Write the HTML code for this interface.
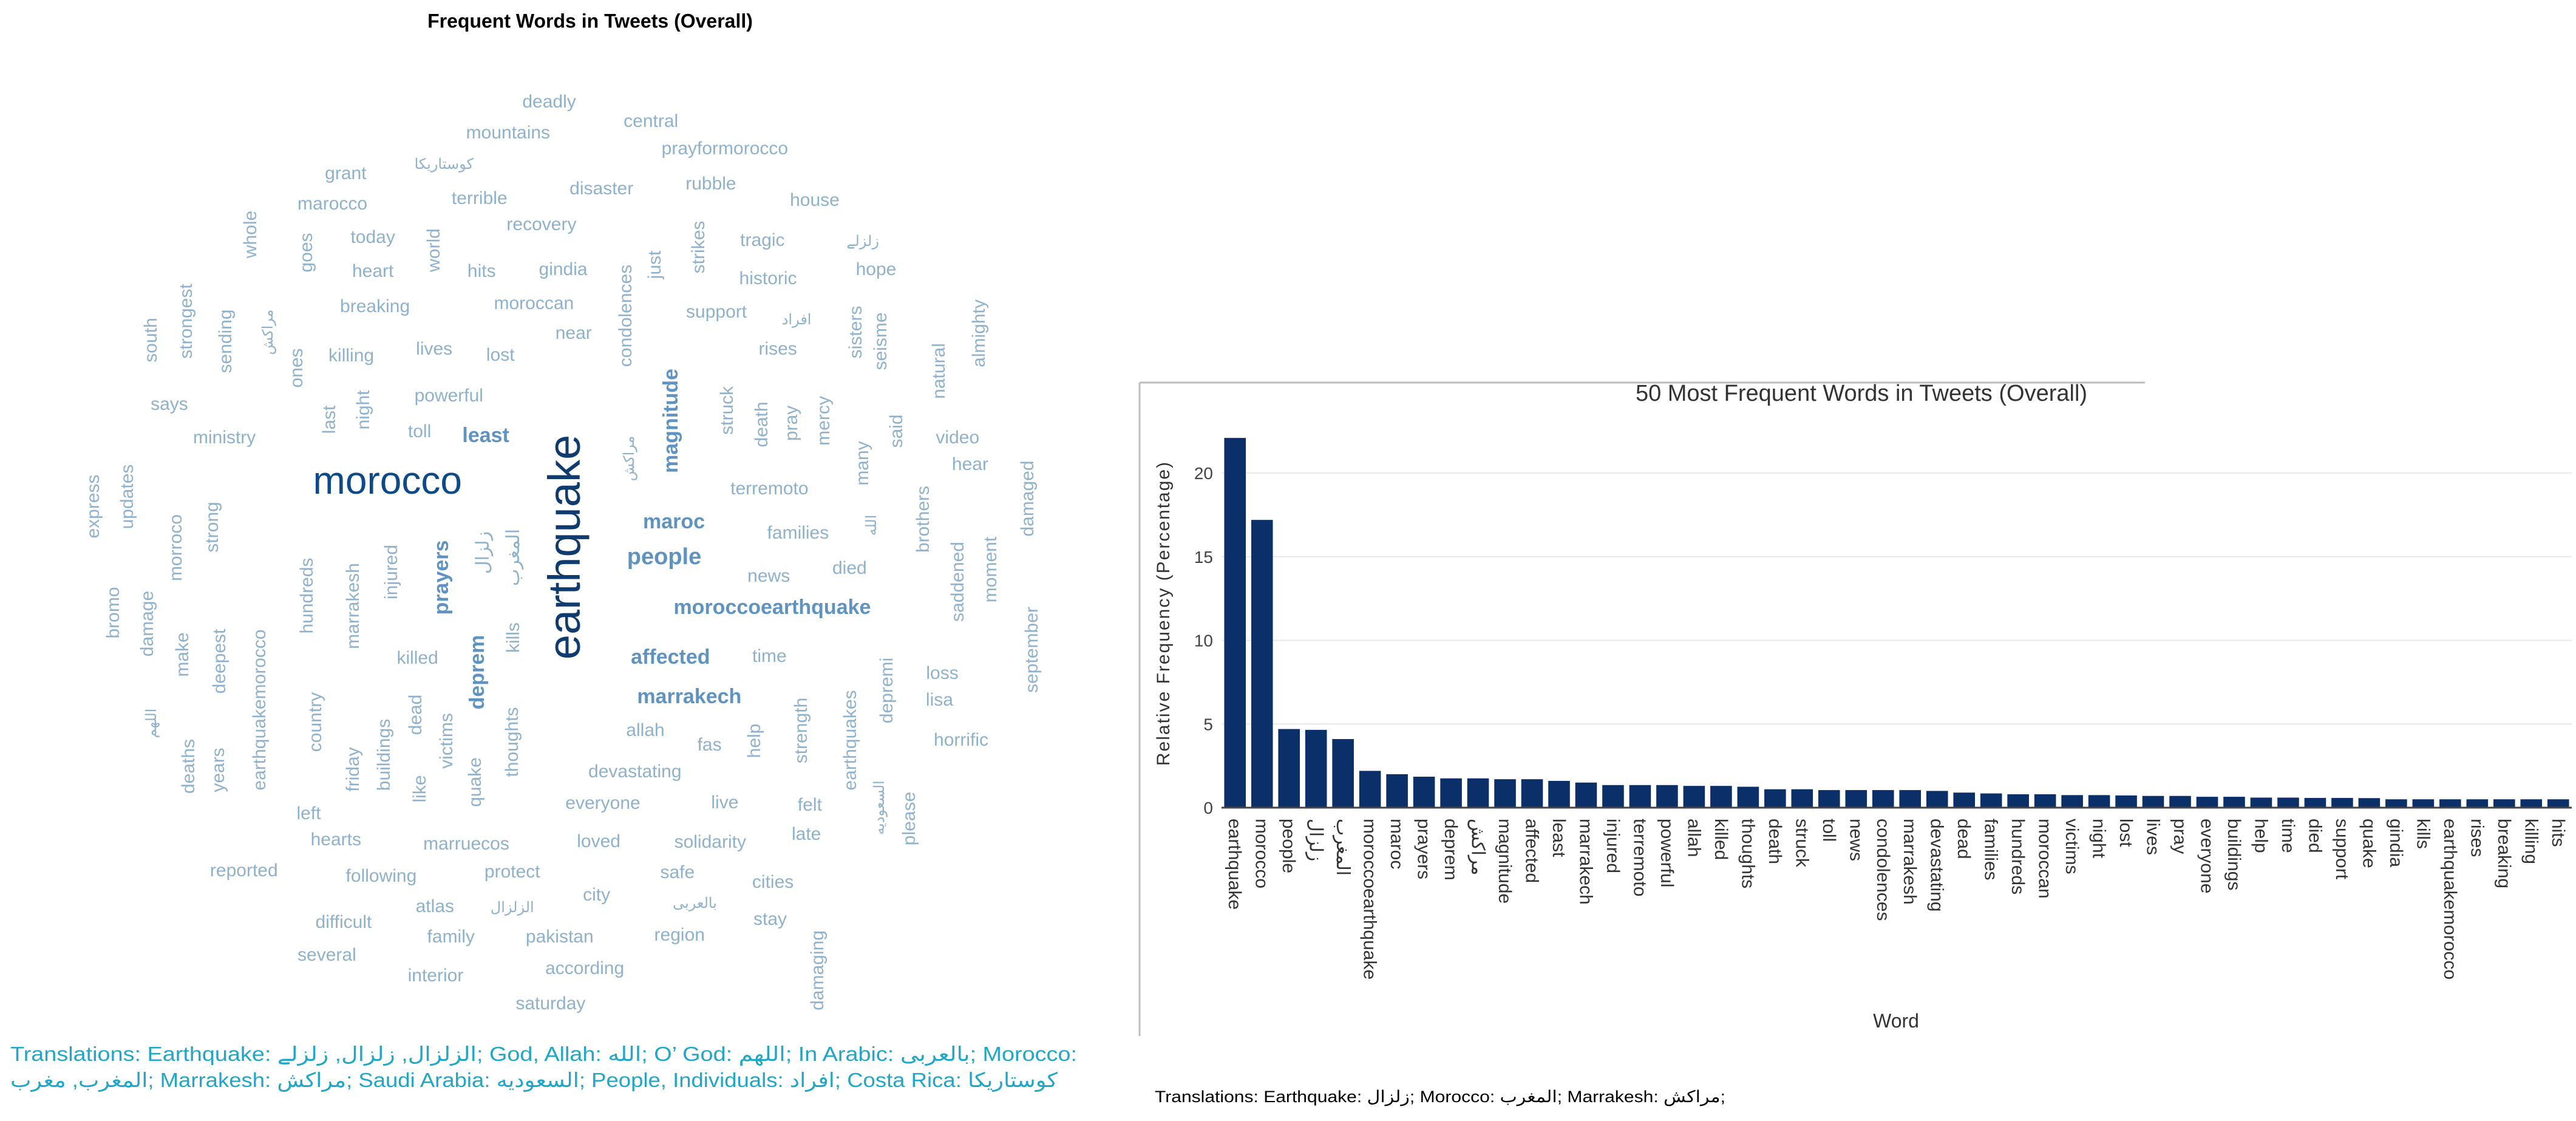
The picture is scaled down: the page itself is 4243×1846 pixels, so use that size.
<!DOCTYPE html>
<html><head><meta charset="utf-8">
<style>
html,body{margin:0;padding:0;background:#fff;}
#page{position:relative;width:4243px;height:1846px;overflow:hidden;background:#fff;font-family:"Liberation Sans","Noto Sans CJK SC",sans-serif;}
.w{position:absolute;white-space:nowrap;line-height:1;transform:translate(-50%,-50%);color:#8fb2cc;font-size:30px;}
.w.v{transform:translate(-50%,-50%) rotate(-90deg);}
.w.m{color:#5f93c2;font-size:34px;font-weight:bold;}
.w.s{font-size:24px;}
</style></head>
<body>
<div id="page">
<div style="position:absolute;left:972px;top:35px;transform:translate(-50%,-50%);font-weight:bold;font-size:32px;color:#000;white-space:nowrap;">Frequent Words in Tweets (Overall)</div>
<div id="cloud" style="position:absolute;left:0;top:0;width:1800px;height:1700px;"></div>
<svg id="trans" width="1800" height="120" style="position:absolute;left:0;top:1700px;">
<text x="17" y="47" font-size="33" fill="#1fa7c9" textLength="1757" lengthAdjust="spacingAndGlyphs" font-family="'Liberation Sans','DejaVu Sans',sans-serif">Translations: Earthquake: الزلزال, زلزال, زلزلے; God, Allah: الله; O’ God: اللهم; In Arabic: بالعربی; Morocco:</text>
<text x="17" y="90" font-size="33" fill="#1fa7c9" textLength="1725" lengthAdjust="spacingAndGlyphs" font-family="'Liberation Sans','DejaVu Sans',sans-serif">المغرب, مغرب; Marrakesh: مراكش; Saudi Arabia: السعوديه; People, Individuals: افراد; Costa Rica: كوستاريكا</text>
</svg>
<svg id="chart" width="4243" height="1846" style="position:absolute;left:0;top:0;font-family:'Liberation Sans','DejaVu Sans',sans-serif;"></svg>
</div>
<script>
const cloudWords = [
["deadly",788,143],["central",934,170],["mountains",729,186],["prayformorocco",1040,208],["grant",496,243],["كوستاريكا",637,230,"s"],
["disaster",863,264],["rubble",1020,257],["terrible",688,278],["house",1169,280],["marocco",477,285],["recovery",777,314],
["today",535,332],["tragic",1094,336],["زلزلے",1238,338,"s"],["heart",535,380],["hits",691,380],["gindia",808,377],["historic",1102,390],
["hope",1257,377],["breaking",538,429],["moroccan",766,425],["support",1028,437],["افراد",1143,448,"s"],["near",823,466],["killing",504,498],
["lives",623,488],["lost",718,497],["rises",1116,488],["says",243,566],["powerful",644,554],["ministry",322,612],["toll",602,604],
["least",697,609,"m"],["video",1374,612],["hear",1392,650],["terremoto",1104,684],["maroc",967,730,"m"],["families",1145,746],
["news",1103,806],["died",1219,795],["moroccoearthquake",1108,849,"m"],["killed",599,921],["affected",962,919,"m"],["time",1104,918],
["loss",1352,942],["lisa",1348,979],["marrakech",989,974,"m"],["allah",926,1022],["fas",1018,1042],["horrific",1379,1035],
["devastating",911,1080],["left",443,1138],["everyone",865,1124],["live",1040,1123],["felt",1162,1126],["hearts",482,1175],
["marruecos",669,1181],["loved",859,1177],["solidarity",1019,1178],["late",1157,1167],["reported",350,1218],["following",547,1226],
["protect",735,1220],["safe",972,1221],["cities",1109,1234],["city",856,1252],["atlas",624,1268],["الزلزال",735,1270,"s"],["بالعربی",997,1264,"s"],
["difficult",493,1290],["family",647,1311],["pakistan",803,1311],["region",975,1308],["stay",1105,1286],["several",469,1336],
["according",839,1355],["interior",625,1365],["saturday",790,1404]
];
const cloudVertical = [
["whole",360,328],["goes",440,353],["world",623,350],["condolences",898,442],["just",940,370],["strikes",1003,346],["south",217,476],
["strongest",267,449],["sending",324,477],["مراكش",385,465,"s"],["ones",426,515],["sisters",1228,465],["seisme",1264,477],["natural",1348,519],
["almighty",1405,466],["last",473,587],["night",522,573],["magnitude",963,589,"m"],["struck",1044,574],["death",1093,594],["pray",1136,592],
["mercy",1182,589],["many",1238,648],["said",1287,603],["مراكش",903,641,"s"],["express",134,708],["updates",183,695],["damaged",1475,697],
["morroco",253,766],["strong",305,737],["brothers",1325,726],["hundreds",441,833],["marrakesh",507,848],["injured",562,800],["prayers",633,808,"m"],
["زلزال",693,773],["المغرب",737,780],["saddened",1375,814],["moment",1422,797],["bromo",163,857],["damage",212,872],["make",262,916],
["deepest",315,925],["earthquakemorocco",373,993],["kills",737,892],["deprem",685,940,"m"],["september",1481,909],["اللهم",218,1012,"s"],
["depremi",1273,966],["earthquakes",1220,1035],["country",453,1010],["dead",597,1000],["help",1083,1036],["strength",1150,1022],
["buildings",551,1056],["victims",641,1036],["thoughts",735,1038],["friday",507,1076],["deaths",271,1072],["years",314,1077],
["like",603,1103],["quake",682,1094],["السعوديه",1262,1130,"s"],["please",1305,1145],["damaging",1173,1357],["الله",1251,735,"s"]
];
const SX=1800/1568, SY=1846/1568;
const cloud=document.getElementById('cloud');
function addWord(w,vert){
  const el=document.createElement('span');
  el.className='w'+(vert?' v':'')+(w[3]?' '+w[3]:'');
  el.textContent=w[0];
  el.style.left=(w[1]*SX)+'px'; el.style.top=(w[2]*SY)+'px';
  
  
  cloud.appendChild(el);
}
cloudWords.forEach(w=>addWord(w,false));
cloudVertical.forEach(w=>addWord(w,true));
// big words
const big1=document.createElement('span');
big1.className='w'; big1.textContent='morocco';
big1.style.cssText='left:'+(556*SX)+'px;top:'+(672*SY)+'px;font-size:64px;color:#0c4a8c;';


cloud.appendChild(big1);
const big2=document.createElement('span');
big2.className='w v'; big2.textContent='earthquake';
big2.style.cssText='left:'+(810*SX)+'px;top:'+(765*SY)+'px;font-size:74px;color:#0f3b6f;';


cloud.appendChild(big2);
const big3=document.createElement('span');
big3.className='w'; big3.textContent='people';
big3.style.cssText='left:'+(953*SX)+'px;top:'+(779*SY)+'px;font-size:38px;color:#5f93c2;font-weight:bold;';


cloud.appendChild(big3);
</script>
<script>
const categories=["earthquake","morocco","people","زلزال","المغرب","moroccoearthquake","maroc","prayers","deprem","مراكش","magnitude","affected","least","marrakech","injured","terremoto","powerful","allah","killed","thoughts","death","struck","toll","news","condolences","marrakesh","devastating","dead","families","hundreds","moroccan","victims","night","lost","lives","pray","everyone","buildings","help","time","died","support","quake","gindia","kills","earthquakemorocco","rises","breaking","killing","hits"];
const values=[22.1,17.2,4.7,4.65,4.1,2.2,2.0,1.85,1.75,1.75,1.7,1.7,1.6,1.5,1.35,1.35,1.35,1.3,1.3,1.25,1.1,1.1,1.05,1.05,1.05,1.05,1.0,0.9,0.85,0.8,0.8,0.75,0.75,0.73,0.7,0.7,0.65,0.65,0.6,0.6,0.58,0.58,0.57,0.5,0.5,0.5,0.5,0.5,0.5,0.5];
const yTicks=[0,5,10,15,20];
const NS='http://www.w3.org/2000/svg';
const svg=document.getElementById('chart');
const X0=2012, X1=4236, Y0=1330, PXPER=27.55;
const band=(X1-X0)/categories.length;
function xPos(i){return X0+band*i+band*0.1;}
function yPos(v){return Y0-v*PXPER;}
function mk(tag,attrs){const e=document.createElementNS(NS,tag);for(const k in attrs)e.setAttribute(k,attrs[k]);svg.appendChild(e);return e;}
// frame
let e=mk('line',{x1:1877,y1:630,x2:3533,y2:630,stroke:'#bdbdbd','stroke-width':3});


e=mk('line',{x1:1877,y1:630,x2:1877,y2:1706,stroke:'#bdbdbd','stroke-width':3});


yTicks.forEach(t=>{
  if(t>0){const g=mk('line',{x1:X0,x2:X1,y1:yPos(t),y2:yPos(t),stroke:'#e8e8e8','stroke-width':2});
  
  }
  const tx=mk('text',{x:1998,y:yPos(t)+10,'text-anchor':'end','font-size':28,fill:'#444'});
  tx.textContent=t;
  
  
});
categories.forEach((c,i)=>{
  const r=mk('rect',{x:xPos(i),y:yPos(values[i]),width:band*0.8,height:values[i]*PXPER,fill:'#0b2f69'});
  
  
  const cx=xPos(i)+band*0.4;
  const t=mk('text',{x:cx-10,y:1348,'font-size':30,fill:'#333',transform:'rotate(90 '+(cx-10)+' 1348)','dominant-baseline':'auto'});
  t.setAttribute('x',cx); t.setAttribute('y',1348);
  t.setAttribute('transform','rotate(90 '+cx+' 1348) translate(0 10)');
  t.textContent=c;
  
  
});
e=mk('line',{x1:X0,x2:X1,y1:Y0,y2:Y0,stroke:'#444','stroke-width':3});


e=mk('text',{x:3066,y:660,'text-anchor':'middle','font-size':38,fill:'#333'});
e.textContent='50 Most Frequent Words in Tweets (Overall)';


e=mk('text',{x:1926,y:1010,'text-anchor':'middle','font-size':30,fill:'#333','letter-spacing':2,transform:'rotate(-90 1926 1010)'});
e.textContent='Relative Frequency (Percentage)';


e=mk('text',{x:3123,y:1692,'text-anchor':'middle','font-size':32,fill:'#333'});
e.textContent='Word';


e=mk('text',{x:1902,y:1815,'font-size':27,fill:'#000',textLength:940,lengthAdjust:'spacingAndGlyphs'});
e.textContent='Translations:    Earthquake:  زلزال; Morocco: المغرب; Marrakesh: مراكش;';


</script>
</body></html>
